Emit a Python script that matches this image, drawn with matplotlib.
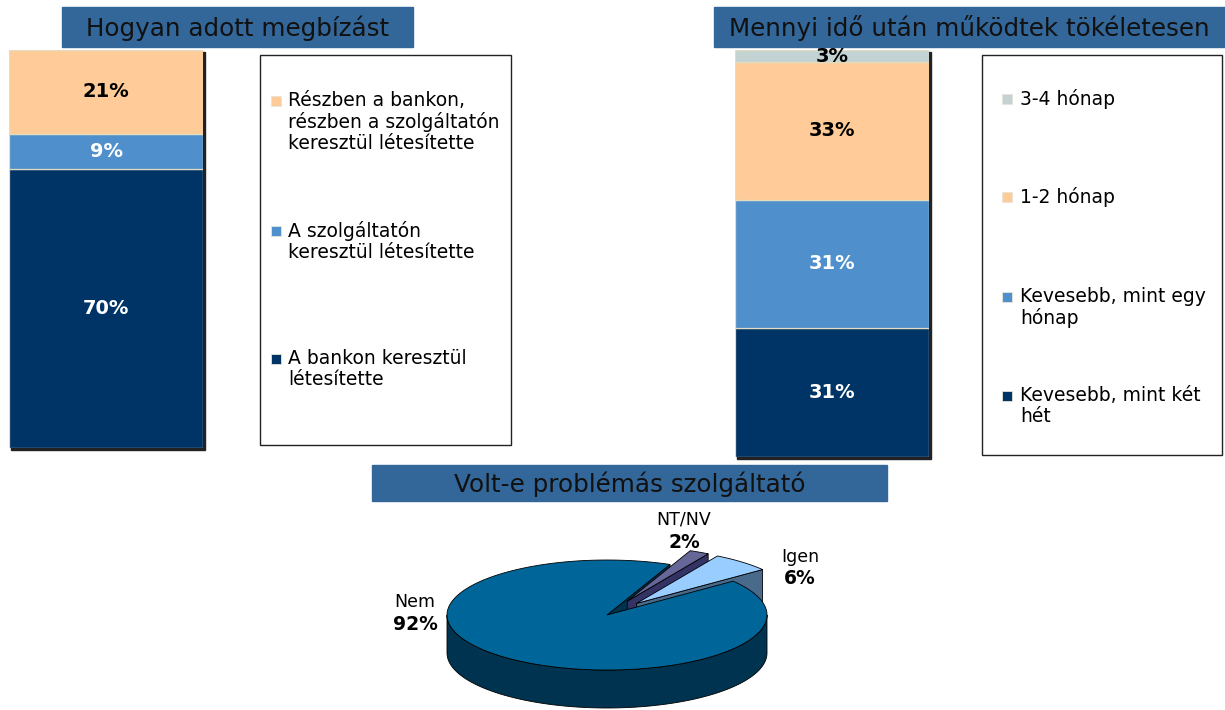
import numpy as np
import matplotlib.pyplot as plt
from matplotlib.patches import Rectangle, Polygon

# data
bar1_labels = ['A bankon keresztül\nlétesítette',
               'A szolgáltatón\nkeresztül létesítette',
               'Részben a bankon,\nrészben a szolgáltatón\nkeresztül létesítette']
bar1_vals = [70, 9, 21]

bar2_labels = ['Kevesebb, mint két\nhét', 'Kevesebb, mint egy\nhónap',
               '1-2 hónap', '3-4 hónap']
bar2_vals = [31, 31, 33, 3]

pie_labels = ['Igen', 'NT/NV', 'Nem']
pie_vals = [6, 2, 92]

titles = ['Hogyan adott megbízást',
          'Mennyi idő után működtek tökéletesen',
          'Volt-e problémás szolgáltató']

# colours
navy, midblue, peach, grey = '#003366', '#4F8FCC', '#FFCC99', '#C3D3D3'
bar1_colors = [navy, midblue, peach]
bar1_txt = ['white', 'white', 'black']
bar2_colors = [navy, midblue, peach, grey]
bar2_txt = ['white', 'white', 'black', 'black']
pie_top = ['#99CCFF', '#666699', '#006699']
pie_side = ['#4A6A8C', '#333366', '#00334F']
pie_explode = [0.28, 0.28, 0.0]

W, H = 1225, 710
fig = plt.figure(figsize=(W / 100, H / 100), dpi=100)


def px_axes(x0, y0, x1, y1):
    return fig.add_axes([x0 / W, 1 - y1 / H, (x1 - x0) / W, (y1 - y0) / H])


# background layer in pixel coordinates
bg = fig.add_axes([0, 0, 1, 1])
bg.set_xlim(0, W)
bg.set_ylim(H, 0)
bg.axis('off')

title_boxes = [(62, 7, 413, 47), (714, 7, 1225, 47), (372, 465, 887, 501)]
for (x0, y0, x1, y1), t in zip(title_boxes, titles):
    bg.add_patch(Rectangle((x0, y0), x1 - x0, y1 - y0, color='#336699'))
    bg.text((x0 + x1) / 2, (y0 + y1) / 2 + 1, t, ha='center', va='center',
            fontsize=17.7, color='#111111')


def stacked_bar(box, vals, colors, txtcolors):
    x0, y0, x1, y1 = box
    # drop shadow
    bg.add_patch(Rectangle((x0 + 2, y0 + 2), x1 - x0, y1 - y0, color='#222222'))
    ax = px_axes(*box)
    bottom = 0
    for v, c, tc in zip(vals, colors, txtcolors):
        ax.bar(0, v, width=1, bottom=bottom, color=c, edgecolor='#E2DCC0',
               linewidth=0.9)
        ax.text(0, bottom + v / 2, f'{v}%', ha='center', va='center',
                fontsize=14, fontweight='bold', color=tc)
        bottom += v
    ax.set_xlim(-0.5, 0.5)
    ax.set_ylim(0, sum(vals))
    ax.axis('off')


stacked_bar((9, 50, 203, 448), bar1_vals, bar1_colors, bar1_txt)
stacked_bar((735, 50, 929, 457), bar2_vals, bar2_colors, bar2_txt)


def legend_box(box, labels, colors, rows, mx, tx):
    x0, y0, x1, y1 = box
    bg.add_patch(Rectangle((x0, y0), x1 - x0, y1 - y0, facecolor='white',
                           edgecolor='#222222', linewidth=1))
    for lab, c, y in zip(labels, colors, rows):
        bg.add_patch(Rectangle((mx, y - 5), 10, 10, facecolor=c,
                               edgecolor='#E8E4D8', linewidth=0.6))
        bg.text(tx, y - 10, lab, ha='left', va='top', fontsize=13.5,
                linespacing=1.12, color='black')


legend_box((260, 55, 511, 445), bar1_labels[::-1], bar1_colors[::-1],
           [101, 231, 359], 271, 288)
legend_box((982, 55, 1222, 455), bar2_labels[::-1], bar2_colors[::-1],
           [99, 197, 297, 396], 1002, 1020)

# 3D pie, drawn by hand in pixel coordinates
cx, cy, rx, ry, depth = 607, 615, 160, 55, 38
start = 38.0
angles = start + 360 * np.concatenate([[0], np.cumsum(pie_vals)]) / sum(pie_vals)


def rim(t, off, dz=0):
    r = np.radians(t)
    return cx + off[0] + rx * np.cos(r), cy + off[1] - ry * np.sin(r) + dz


def slice_body(i, off):
    t1, t2 = angles[i], angles[i + 1]
    # outer wall on the front half
    for k in (0, 360):
        lo, hi = max(t1, 180 + k), min(t2, 360 + k)
        if lo < hi:
            ts = np.linspace(lo, hi, 80)
            top = [rim(t, off) for t in ts]
            bot = [rim(t, off, depth) for t in ts[::-1]]
            bg.add_patch(Polygon(top + bot, closed=True, facecolor=pie_side[i],
                                 edgecolor='black', linewidth=0.6))
    # radial cut faces that face the viewer
    c_top = (cx + off[0], cy + off[1])
    c_bot = (cx + off[0], cy + off[1] + depth)
    for t, n in ((t1, t1 - 90), (t2, t2 + 90)):
        if np.sin(np.radians(n)) < 0:
            bg.add_patch(Polygon([c_top, rim(t, off), rim(t, off, depth), c_bot],
                                 closed=True, facecolor=pie_side[i],
                                 edgecolor='black', linewidth=0.6))


def slice_top(i, off):
    t1, t2 = angles[i], angles[i + 1]
    ts = np.linspace(t1, t2, 200)
    pts = [(cx + off[0], cy + off[1])] + [rim(t, off) for t in ts]
    bg.add_patch(Polygon(pts, closed=True, facecolor=pie_top[i],
                         edgecolor='black', linewidth=0.6))


offsets = []
for i, e in enumerate(pie_explode):
    mid = np.radians((angles[i] + angles[i + 1]) / 2)
    offsets.append((rx * e * np.cos(mid), -ry * e * np.sin(mid)))

slice_body(2, offsets[2])
for i in (1, 0):
    slice_body(i, offsets[i])
    slice_top(i, offsets[i])
slice_top(2, offsets[2])

pie_text_pos = [(800, 557), (684, 520), (415, 602)]
for lab, v, (x, y) in zip(pie_labels, pie_vals, pie_text_pos):
    bg.text(x, y, lab, ha='center', va='center', fontsize=12.5)
    bg.text(x, y + 22, f'{v}%', ha='center', va='center', fontsize=13.5,
            fontweight='bold')

fig.savefig('out.png', dpi=100)
